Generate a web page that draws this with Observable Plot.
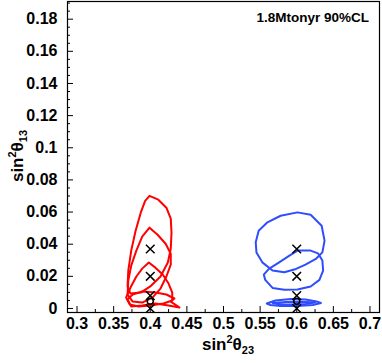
<!DOCTYPE html>
<html><head><meta charset="utf-8">
<script src="https://cdn.jsdelivr.net/npm/d3@7"></script>
<script src="https://cdn.jsdelivr.net/npm/@observablehq/plot@0.6"></script>
<style>
html,body{margin:0;padding:0;background:#fff}
</style></head><body><div id="chart"></div>
<script>
// Axis ticks
const xTicks = [0.3, 0.35, 0.4, 0.45, 0.5, 0.55, 0.6, 0.65, 0.7];
const xMinor = [0.325, 0.375, 0.425, 0.475, 0.525, 0.575, 0.625, 0.675];
const yTicks = [0, 0.02, 0.04, 0.06, 0.08, 0.1, 0.12, 0.14, 0.16, 0.18];
const yMinor = [0.005, 0.01, 0.015, 0.025, 0.03, 0.035, 0.045, 0.05, 0.055, 0.065, 0.07, 0.075,
  0.085, 0.09, 0.095, 0.105, 0.11, 0.115, 0.125, 0.13, 0.135, 0.145, 0.15, 0.155, 0.165, 0.17, 0.175, 0.185, 0.19];

// True points (sin^2 theta23, sin^2 theta13)
const crossX = [0.4, 0.4, 0.4, 0.4, 0.6, 0.6, 0.6, 0.6];
const crossY = [0.037, 0.02, 0.008, 0.0, 0.037, 0.02, 0.008, 0.0];
const circleX = [0.4, 0.6];
const circleY = [0.0045, 0.0045];

// 90% CL contours (sin^2 theta23, sin^2 theta13)
const red037 = [[0.399,0.0701],[0.411,0.0677],[0.422,0.0627],[0.428,0.0559],[0.429,0.0472],[0.428,0.0372],
  [0.424,0.0286],[0.414,0.0199],[0.400,0.0137],[0.387,0.0099],[0.373,0.0093],[0.369,0.0137],[0.370,0.0236],
  [0.374,0.0360],[0.380,0.0484],[0.387,0.0596],[0.393,0.0670]];
const red020 = [[0.399,0.0503],[0.410,0.0459],[0.421,0.0403],[0.428,0.0341],[0.428,0.0273],[0.422,0.0199],
  [0.414,0.0124],[0.403,0.0068],[0.389,0.0037],[0.376,0.0043],[0.369,0.0087],[0.370,0.0174],[0.374,0.0267],
  [0.381,0.0360],[0.389,0.0447]];
const red008 = [[0.398,0.0286],[0.407,0.0254],[0.417,0.0211],[0.425,0.0155],[0.430,0.0099],[0.430,0.0050],
  [0.418,0.0031],[0.400,0.0019],[0.384,0.0012],[0.372,0.0025],[0.367,0.0068],[0.373,0.0130],[0.381,0.0199],
  [0.389,0.0248]];
const red000 = [[0.369,0.0056],[0.376,0.0087],[0.389,0.0106],[0.407,0.0099],[0.422,0.0087],[0.433,0.0062],
  [0.428,0.0043],[0.440,0.0006],[0.425,0.0019],[0.407,0.0031],[0.389,0.0019],[0.374,0.0012]];
const blue037 = [[0.601,0.0598],[0.619,0.0583],[0.634,0.0515],[0.638,0.0422],[0.635,0.0349],[0.626,0.0308],
  [0.612,0.0273],[0.599,0.0246],[0.583,0.0225],[0.567,0.0236],[0.553,0.0287],[0.545,0.0349],[0.544,0.0412],
  [0.548,0.0484],[0.560,0.0536],[0.578,0.0577]];
const blue020 = [[0.601,0.0360],[0.619,0.0360],[0.629,0.0343],[0.635,0.0298],[0.636,0.0236],[0.631,0.0178],
  [0.619,0.0137],[0.601,0.0118],[0.583,0.0116],[0.567,0.0128],[0.557,0.0178],[0.555,0.0211],[0.562,0.0246],
  [0.576,0.0287],[0.590,0.0329]];
const blue008 = [[0.559,0.0031],[0.571,0.0050],[0.592,0.0059],[0.612,0.0056],[0.627,0.0043],[0.633,0.0034],
  [0.622,0.0022],[0.600,0.0016],[0.578,0.0016],[0.564,0.0022]];
const blue000 = [[0.567,0.0034],[0.585,0.0040],[0.606,0.0042],[0.625,0.0037],[0.612,0.0028],[0.592,0.0025],
  [0.575,0.0026]];

const redContours = [red037, red020, red008, red000];
const blueContours = [blue037, blue020, blue008, blue000];

const RED = "#ff0000", BLUE = "#2f4dff";
const contourMarks = [];
for (const c of redContours) contourMarks.push(Plot.line(c, {x: d => d[0], y: d => d[1], stroke: RED, strokeWidth: 2, curve: "linear-closed"}));
for (const c of blueContours) contourMarks.push(Plot.line(c, {x: d => d[0], y: d => d[1], stroke: BLUE, strokeWidth: 2, curve: "linear-closed"}));

const crosses = crossX.map((x, i) => ({x, y: crossY[i]}));
const circles = circleX.map((x, i) => ({x, y: circleY[i]}));

const FONT = "'Liberation Sans', Arial, Helvetica, sans-serif";
const chart = Plot.plot({
  width: 382, height: 363,
  marginLeft: 67, marginRight: 3, marginTop: 1, marginBottom: 51,
  style: {fontFamily: FONT, fontWeight: "bold", fontSize: "16px", background: "#fff", color: "#000", overflow: "visible"},
  x: {domain: [0.287, 0.713], label: null},
  y: {domain: [-0.0025, 0.191], label: null},
  marks: [
    ...contourMarks,
    Plot.dot(crosses, {x: "x", y: "y", symbol: "times", r: 4, stroke: "#000", strokeWidth: 1.5}),
    Plot.dot(circles, {x: "x", y: "y", symbol: "circle", r: 3, stroke: "#000", strokeWidth: 1.5}),
    Plot.axisY(yMinor, {tickSize: -3, tickFormat: () => "", stroke: "#000"}),
    Plot.axisY(yTicks, {tickSize: -6, tickPadding: 16, tickFormat: d => String(d), fontSize: 16, fontWeight: "bold", stroke: "#000"}),
    Plot.axisX(xMinor, {tickSize: -3, tickFormat: () => "", stroke: "#000"}),
    Plot.axisX(xTicks, {tickSize: -6, tickPadding: 11, tickFormat: d => String(d), fontSize: 16, fontWeight: "bold", stroke: "#000"}),
    Plot.frame({stroke: "#000", strokeWidth: 1.2})
  ]
});
document.getElementById("chart").appendChild(chart);

const svg = d3.select(chart);
// x title (centered under the frame)
const xt = svg.append("text").attr("x", 228).attr("y", 350).attr("text-anchor", "middle")
  .style("font-family", FONT).style("font-weight", "bold").style("font-size", "17px").attr("fill", "#000");
xt.append("tspan").text("sin");
xt.append("tspan").attr("dy", -7).style("font-size", "11px").text("2");
xt.append("tspan").attr("dy", 7).text("θ");
xt.append("tspan").attr("dy", 4).style("font-size", "11px").text("23");

// y title (rotated, centered on the frame)
const yt = svg.append("text").attr("transform", "translate(23,156) rotate(-90)").attr("text-anchor", "middle")
  .style("font-family", FONT).style("font-weight", "bold").style("font-size", "17px").attr("fill", "#000");
yt.append("tspan").text("sin");
yt.append("tspan").attr("dy", -7).style("font-size", "11px").text("2");
yt.append("tspan").attr("dy", 7).text("θ");
yt.append("tspan").attr("dy", 4).style("font-size", "11px").text("13");

// legend text
svg.append("text").attr("x", 369).attr("y", 22).attr("text-anchor", "end")
  .style("font-family", FONT).style("font-weight", "bold").style("font-size", "13.5px").attr("fill", "#000")
  .text("1.8Mtonyr 90%CL");
</script>
</body></html>
